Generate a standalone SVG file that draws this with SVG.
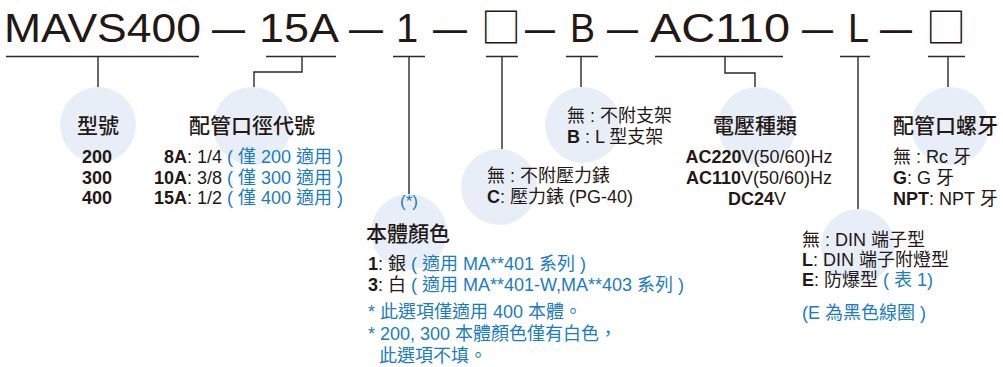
<svg xmlns="http://www.w3.org/2000/svg" width="1003" height="367" viewBox="0 0 1003 367">
<style>
.t{font-family:"Liberation Sans","Noto Sans CJK TC",sans-serif;fill:#231815}
.title{font-size:40px}
.box{font-family:"Noto Sans CJK TC",sans-serif;font-size:40px;fill:#231815}
.h{font-family:"Liberation Sans","Noto Sans CJK TC",sans-serif;font-size:21px;font-weight:500;fill:#231815}
.b{font-size:18px}
.bl{fill:#1c7cc2}
.k{font-weight:bold}
.c{fill:#e8eef8}
.ln{stroke:#2e2826;stroke-width:1.4;fill:none}
</style>
<rect width="1003" height="367" fill="#ffffff"/>
<g id="title" class="t title">
<text x="4" y="42" textLength="197" lengthAdjust="spacingAndGlyphs">MAVS400</text>
<text x="212" y="42" textLength="33" lengthAdjust="spacingAndGlyphs">—</text>
<text x="259" y="42" textLength="80" lengthAdjust="spacingAndGlyphs">15A</text>
<text x="349" y="42" textLength="34" lengthAdjust="spacingAndGlyphs">—</text>
<text x="396" y="42">1</text>
<text x="433" y="42" textLength="34" lengthAdjust="spacingAndGlyphs">—</text>
<text x="525" y="42" textLength="30" lengthAdjust="spacingAndGlyphs">—</text>
<text x="570" y="42" textLength="25" lengthAdjust="spacingAndGlyphs">B</text>
<text x="607" y="42" textLength="31" lengthAdjust="spacingAndGlyphs">—</text>
<text x="650" y="42" textLength="140" lengthAdjust="spacingAndGlyphs">AC110</text>
<text x="802" y="42" textLength="31" lengthAdjust="spacingAndGlyphs">—</text>
<text x="848" y="42" textLength="21" lengthAdjust="spacingAndGlyphs">L</text>
<text x="880" y="42" textLength="32" lengthAdjust="spacingAndGlyphs">—</text>
</g>
<g id="title-boxes" class="box">
<text x="481" y="42">□</text>
<text x="926" y="42">□</text>
</g>
<g id="connectors" class="ln">
<path d="M6 56.5H199M98 56.5V87"/>
<path d="M266 56.5H336M302 56.5V72H254V87"/>
<path d="M393 56.5H425M409 56.5V194"/>
<path d="M486 56.5H518M502 56.5V149"/>
<path d="M566 56.5H598M581 56.5V87"/>
<path d="M655 56.5H783M725 56.5V73H755V87"/>
<path d="M840 56.5H870M858 56.5V209"/>
<path d="M928 56.5H965M948 56.5V87"/>
</g>
<g id="node-model">
<circle class="c" cx="98" cy="125" r="38"/>
<text class="h" x="98" y="133" text-anchor="middle">型號</text>
<g class="t b k" text-anchor="middle">
<text x="97" y="163">200</text>
<text x="97" y="183.5">300</text>
<text x="97" y="204">400</text>
</g>
</g>
<g id="node-port-size">
<circle class="c" cx="252" cy="126" r="39"/>
<text class="h" x="252" y="133" text-anchor="middle">配管口徑代號</text>
<g class="t b" text-anchor="end">
<text x="343" y="163"><tspan class="k">8A</tspan>: 1/4 <tspan class="bl">( 僅 200 適用 )</tspan></text>
<text x="343" y="183.5"><tspan class="k">10A</tspan>: 3/8 <tspan class="bl">( 僅 300 適用 )</tspan></text>
<text x="343" y="204"><tspan class="k">15A</tspan>: 1/2 <tspan class="bl">( 僅 400 適用 )</tspan></text>
</g>
</g>
<g id="node-body-color">
<circle class="c" cx="409" cy="232" r="38"/>
<text class="t bl" x="409" y="207" font-size="17" text-anchor="middle">(*)</text>
<text class="h" x="366" y="241">本體顏色</text>
<g class="t b">
<text x="368" y="270"><tspan class="k">1</tspan>: 銀 <tspan class="bl">( 適用 MA**401 系列 )</tspan></text>
<text x="368" y="290.5"><tspan class="k">3</tspan>: 白 <tspan class="bl">( 適用 MA**401-W,MA**403 系列 )</tspan></text>
<text class="bl" x="368" y="318">* 此選項僅適用 400 本體。</text>
<text class="bl" x="368" y="340">* 200, 300 本體顏色僅有白色，</text>
<text class="bl" x="379" y="362">此選項不填。</text>
</g>
</g>
<g id="node-gauge">
<circle class="c" cx="499" cy="187" r="38"/>
<g class="t b">
<text x="487" y="182">無 : 不附壓力錶</text>
<text x="487" y="202.5"><tspan class="k">C</tspan>: 壓力錶 (PG-40)</text>
</g>
</g>
<g id="node-bracket">
<circle class="c" cx="583" cy="125" r="38"/>
<g class="t b">
<text x="567" y="122">無 : 不附支架</text>
<text x="567" y="142.5"><tspan class="k">B</tspan> : L 型支架</text>
</g>
</g>
<g id="node-voltage">
<circle class="c" cx="757" cy="126" r="39"/>
<text class="h" x="755" y="133" text-anchor="middle">電壓種類</text>
<g class="t b" text-anchor="middle">
<text x="759" y="163"><tspan class="k">AC220</tspan>V(50/60)Hz</text>
<text x="759" y="184"><tspan class="k">AC110</tspan>V(50/60)Hz</text>
<text x="757" y="205"><tspan class="k">DC24</tspan>V</text>
</g>
</g>
<g id="node-connector">
<circle class="c" cx="858" cy="246" r="37"/>
<g class="t b">
<text x="802" y="245.5">無 : DIN 端子型</text>
<text x="802" y="266"><tspan class="k">L</tspan>: DIN 端子附燈型</text>
<text x="802" y="286"><tspan class="k">E</tspan>: 防爆型 <tspan class="bl">( 表 1)</tspan></text>
<text class="bl" x="802" y="319">(E 為黑色線圈 )</text>
</g>
</g>
<g id="node-thread">
<circle class="c" cx="950" cy="126" r="39"/>
<text class="h" x="893" y="133">配管口螺牙</text>
<g class="t b">
<text x="893" y="163">無 : Rc 牙</text>
<text x="893" y="184"><tspan class="k">G</tspan>: G 牙</text>
<text x="893" y="205"><tspan class="k">NPT</tspan>: NPT 牙</text>
</g>
</g>
</svg>
